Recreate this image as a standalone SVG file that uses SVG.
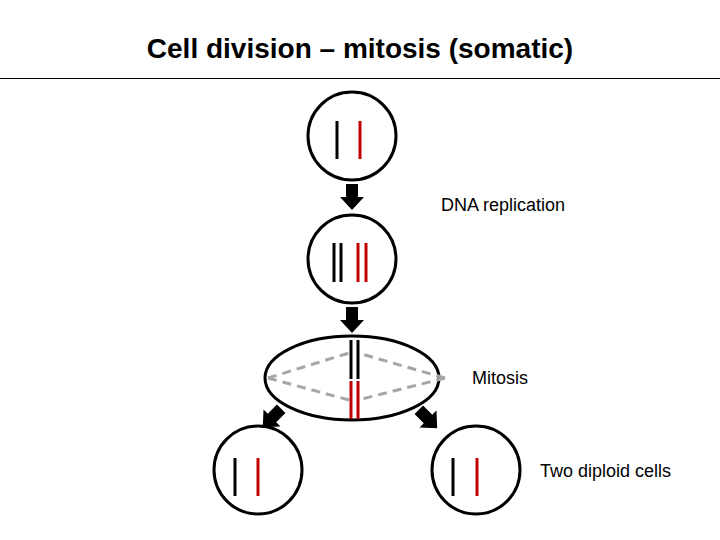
<svg xmlns="http://www.w3.org/2000/svg" width="720" height="540" viewBox="0 0 720 540">
<style>
.c{fill:none;stroke:#000;stroke-width:3}
.k{stroke:#000;stroke-width:3}
.r{stroke:#c00000;stroke-width:3}
.d{stroke:#a6a6a6;stroke-width:3;stroke-dasharray:9,6;fill:none}
.t{font-family:"Liberation Sans",Arial,sans-serif;font-size:18px}
</style>
<defs><path id="ar" d="M-6,-13 H6 V0 H12 L0,13 L-12,0 H-6 Z" fill="#000"/></defs>
<rect width="720" height="540" fill="#fff"/>
<text x="360" y="58" text-anchor="middle" font-family="Liberation Sans,Arial,sans-serif" font-size="28" font-weight="bold">Cell division – mitosis (somatic)</text>
<line x1="0" y1="78.5" x2="720" y2="78.5" stroke="#000" stroke-width="1"/>
<g id="cell1"><circle class="c" cx="352" cy="136" r="44"/><line class="k" x1="337" y1="121" x2="337" y2="159"/><line class="r" x1="360" y1="121" x2="360" y2="159"/></g>
<g id="cell2"><circle class="c" cx="352" cy="259" r="44"/><line class="k" x1="334" y1="243" x2="334" y2="282"/><line class="k" x1="341" y1="243" x2="341" y2="282"/><line class="r" x1="358" y1="243" x2="358" y2="282"/><line class="r" x1="366" y1="243" x2="366" y2="282"/></g>
<g id="mitosis"><ellipse class="c" cx="352" cy="378" rx="87" ry="42"/>
<path class="d" d="M268,378 L349,353 M268,378 L349,400 M445,378 L358,353 M445,378 L358,400"/>
<line class="k" x1="351" y1="340" x2="351" y2="379"/><line class="k" x1="358" y1="340" x2="358" y2="379"/><line class="r" x1="351" y1="381" x2="351" y2="419"/><line class="r" x1="358" y1="381" x2="358" y2="419"/></g>
<g id="cell3"><circle class="c" cx="258" cy="470" r="44"/><line class="k" x1="235" y1="458" x2="235" y2="496"/><line class="r" x1="258" y1="458" x2="258" y2="496"/></g>
<g id="cell4"><circle class="c" cx="476" cy="470" r="44"/><line class="k" x1="453" y1="458" x2="453" y2="496"/><line class="r" x1="477" y1="458" x2="477" y2="496"/></g>
<g id="connectors">
<use href="#ar" transform="translate(352,197)"/>
<use href="#ar" transform="translate(352,320)"/>
<use href="#ar" transform="translate(272,418) rotate(45)"/>
<use href="#ar" transform="translate(428,419) rotate(-45)"/>
</g>
<text class="t" x="441" y="211">DNA replication</text>
<text class="t" x="472" y="384">Mitosis</text>
<text class="t" x="540" y="477">Two diploid cells</text>
</svg>
